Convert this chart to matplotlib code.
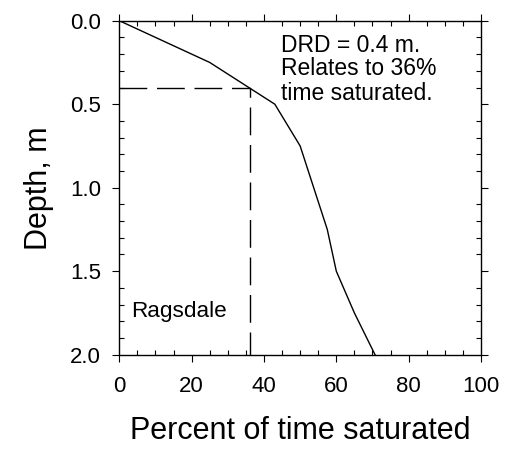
import matplotlib
matplotlib.use("Agg")
import matplotlib.pyplot as plt
from matplotlib.ticker import MultipleLocator, FormatStrFormatter

plt.rcParams['font.family'] = ['Liberation Sans', 'DejaVu Sans']

percent = [0, 25, 43, 50, 57.5, 60, 65, 70.7]
depth = [0, 0.25, 0.5, 0.75, 1.25, 1.5, 1.75, 2.0]

drd_depth = 0.4
drd_percent = 36

fig = plt.figure(figsize=(5.07, 4.53), dpi=100)
ax = fig.add_axes([0.2353, 0.217, 0.9487 - 0.2353, 0.9543 - 0.217])

ax.plot(percent, depth, color='black', lw=1.0)
ax.plot([0, drd_percent, drd_percent], [drd_depth, drd_depth, 2.0],
        color='black', lw=1.0, dashes=(20, 7))

ax.set_xlim(0, 100)
ax.set_ylim(2.0, 0.0)
ax.xaxis.set_major_locator(MultipleLocator(20))
ax.xaxis.set_minor_locator(MultipleLocator(5))
ax.yaxis.set_major_locator(MultipleLocator(0.5))
ax.yaxis.set_minor_locator(MultipleLocator(0.1))
ax.yaxis.set_major_formatter(FormatStrFormatter('%.1f'))

ax.tick_params(which='major', direction='out', length=5, width=0.8,
               top=True, right=True, labelsize=16, pad=8, color='black')
ax.tick_params(axis='x', which='major', pad=10)
ax.tick_params(which='minor', direction='in', length=3.5, width=0.8,
               top=True, right=True, color='black')
for s in ax.spines.values():
    s.set_linewidth(1.0)

ax.set_xlabel('Percent of time saturated', fontsize=22, labelpad=14)
ax.set_ylabel('Depth, m', fontsize=22, labelpad=12)

ax.text(44.7, 0.185, 'DRD = 0.4 m.', fontsize=16.5, va='baseline', ha='left')
ax.text(44.7, 0.325, 'Relates to 36%', fontsize=16.5, va='baseline', ha='left')
ax.text(44.7, 0.475, 'time saturated.', fontsize=16.5, va='baseline', ha='left')
ax.text(3.4, 1.776, 'Ragsdale', fontsize=16.2, va='baseline', ha='left')

fig.savefig('out.png', dpi=100)
